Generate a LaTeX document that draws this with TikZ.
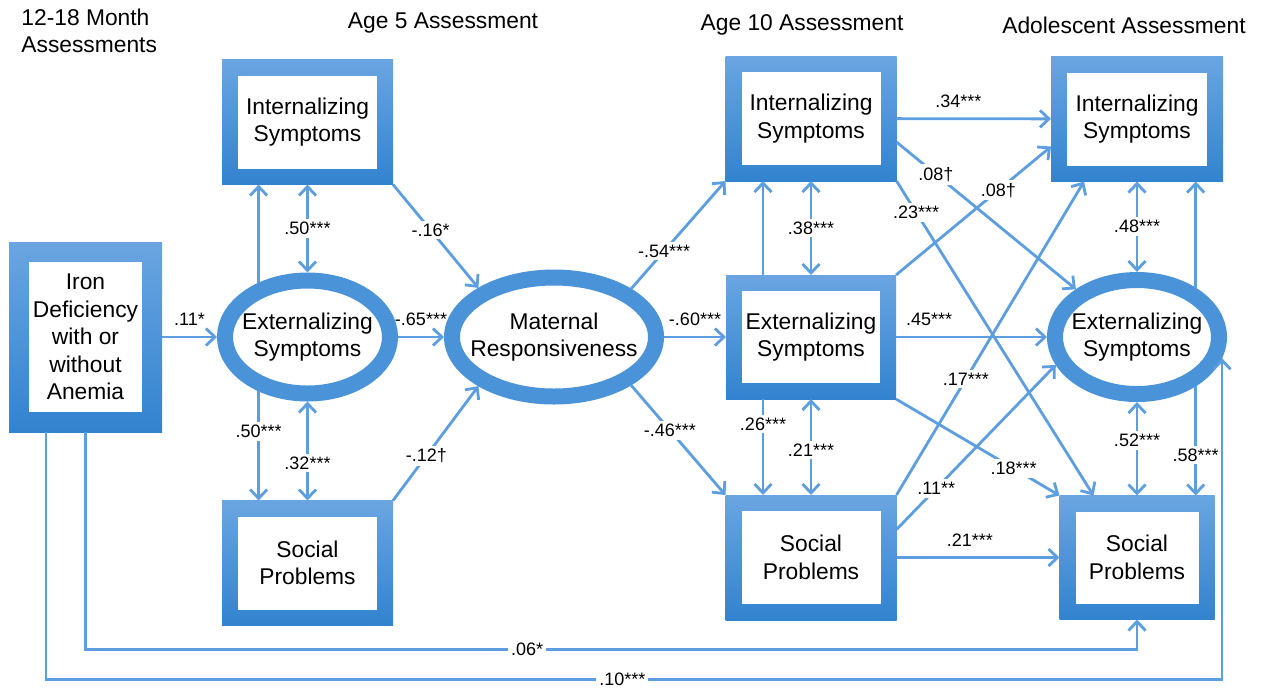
\documentclass[tikz,border=0pt]{standalone}
\usepackage{fontspec}
\setmainfont{Liberation Sans}
\usepackage{tikz}
\usetikzlibrary{arrows.meta, positioning, shapes.geometric}
\definecolor{boxtop}{RGB}{106,165,225}
\definecolor{boxbot}{RGB}{50,131,207}
\definecolor{ringblue}{RGB}{74,147,216}
\definecolor{linkblue}{RGB}{92,158,223}
\newcommand{\boxfont}{\fontsize{11.4pt}{13.7pt}\selectfont}
\newcommand{\lblfont}{\fontsize{9pt}{10.5pt}\selectfont}

\begin{document}
\begin{tikzpicture}[
   x=0.5pt, y=-0.5pt,
   box/.style={rectangle, top color=boxtop, bottom color=boxbot, align=center,
               font=\boxfont, inner sep=0pt, outer sep=0pt,
               minimum width=85.5pt, minimum height=62.5pt,
               path picture={\fill[white]
                 ([shift={(#1,#1)}]path picture bounding box.south west) rectangle
                 ([shift={(-#1,-#1)}]path picture bounding box.north east);}},
   box/.default=8pt,
   ell/.style={ellipse, draw=ringblue, fill=white, line width=8pt, align=center,
               font=\boxfont, inner xsep=-6pt, inner ysep=0pt, outer sep=4pt},
   head/.style={font=\boxfont, align=left, inner sep=0pt},
   lbl/.style={fill=white, inner sep=1.5pt, font=\lblfont},
   tag/.style={inner sep=1pt, font=\lblfont},
   arr/.style={-{Straight Barb[length=4.5pt, width=8.5pt]}, line width=1.4pt, draw=linkblue},
   dbl/.style={{Straight Barb[length=4.5pt, width=8.5pt]}-{Straight Barb[length=4.5pt, width=8.5pt]},
               line width=1.4pt, draw=linkblue}]

  \path[fill=white] (0,0) rectangle (1263,687);

  \node[head, anchor=west] (hinfant) at (21,31) {12-18 Month\\Assessments};
  \node[head] (hage5) at (443,23) {Age 5 Assessment};
  \node[head] (hage10) at (802,25) {Age 10 Assessment};
  \node[head] (hadol) at (1124,25) {Adolescent Assessment};

  \node[box=10pt, minimum width=76.5pt, minimum height=95pt] (iron) at (85.5,337)
       {Iron\\Deficiency\\with or\\without\\Anemia};
  \node[ell, minimum width=82.5pt, minimum height=56.5pt, right=27.5pt of iron]
       (ext5) {Externalizing\\Symptoms};
  \node[box, above=44pt of ext5] (int5) {Internalizing\\Symptoms};
  \node[box, below=49.5pt of ext5] (soc5) {Social\\Problems};
  \node[ell, minimum width=102pt, minimum height=59.5pt, right=23pt of ext5]
       (mat) {Maternal\\Responsiveness};

  \node[box, minimum width=85pt, minimum height=62pt, right=31pt of mat]
       (ext10) {Externalizing\\Symptoms};
  \node[box, above=47pt of ext10] (int10) {Internalizing\\Symptoms};
  \node[box, below=48pt of ext10] (soc10) {Social\\Problems};

  \node[ell, minimum width=82pt, minimum height=57pt, right=75.5pt of ext10]
       (extA) {Externalizing\\Symptoms};
  \node[box, minimum width=86pt, above=45.25pt of extA] (intA) {Internalizing\\Symptoms};
  \node[box, minimum width=77.5pt, minimum height=62pt, below=46.75pt of extA]
       (socA) {Social\\Problems};

  \draw[arr] (iron) -- node[tag, above=4pt] {.11*} (ext5);
  \draw[arr] (ext5.132) -- (ext5.132 |- int5.south);
  \draw[dbl] (ext5) -- node[lbl] {.50***} (int5);
  \draw[arr] (ext5.228) -- node[lbl, pos=0.37] {.50***} (ext5.228 |- soc5.north);
  \draw[dbl] (ext5) -- node[lbl, pos=0.62] {.32***} (soc5);

  \draw[arr] (int5.south east) -- node[lbl, pos=0.44] {-.16*} (mat.147);
  \draw[arr] (ext5) -- node[tag, above=4pt] {-.65***} (mat);
  \draw[arr] (soc5.north east) -- node[lbl, pos=0.39] {-.12†} (mat.213);

  \draw[arr] (mat.32) -- node[lbl, pos=0.35] {-.54***} (int10.south west);
  \draw[arr] (mat) -- node[tag, above=4pt] {-.60***} (ext10);
  \draw[arr] (mat.-32) -- node[lbl, pos=0.41] {-.46***} (soc10.north west);

  \draw[arr] ([xshift=-24pt]ext10.north) -- ([xshift=-24pt]int10.south);
  \draw[dbl] (ext10) -- node[lbl] {.38***} (int10);
  \draw[arr] ([xshift=-24pt]ext10.south) -- node[lbl, pos=0.26] {.26***} ([xshift=-24pt]soc10.north);
  \draw[dbl] (ext10) -- node[lbl, pos=0.53] {.21***} (soc10);

  \draw[arr] (int10) -- node[tag, above=4pt, pos=0.4] {.34***} (intA);
  \draw[arr] ([yshift=-11.75pt]int10.east) -- node[lbl, pos=0.22] {.08†} (extA.142);
  \draw[arr] (int10.south east) -- node[lbl, pos=0.1] {.23***} ([xshift=-21.75pt]socA.north);
  \draw[arr] (ext10.north east) -- node[lbl, pos=0.66] {.08†} ([yshift=-13.75pt]intA.west);
  \draw[arr] (ext10) -- node[tag, above=4pt, pos=0.22] {.45***} (extA);
  \draw[arr] (ext10.south east) -- node[lbl, pos=0.72] {.18***} (socA.north west);
  \draw[arr] (soc10.north east) -- node[lbl, pos=0.37] {.17***} ([xshift=-26.5pt]intA.south);
  \draw[arr] ([yshift=14pt]soc10.east) -- node[lbl, pos=0.25] {.11**} (extA.199);
  \draw[arr] (soc10) -- node[tag, above=4pt, pos=0.45] {.21***} (socA);

  \draw[arr] (extA.40) -- (extA.40 |- intA.south);
  \draw[dbl] (extA) -- node[lbl] {.48***} (intA);
  \draw[dbl] (extA) -- node[lbl, pos=0.41] {.52***} (socA);
  \draw[arr] (extA.-40) -- node[lbl, pos=0.63] {.58***} (extA.-40 |- socA.north);

  \draw[arr] (iron.south) |- node[lbl, pos=0.71] {.06*} ([yshift=-15pt]socA.south) -- (socA.south);
  \draw[arr] ([xshift=-19.75pt]iron.south) |- node[lbl, pos=0.745] {.10***}
       ([yshift=-160.5pt]extA.-14) -- (extA.-14);
\end{tikzpicture}
\end{document}
